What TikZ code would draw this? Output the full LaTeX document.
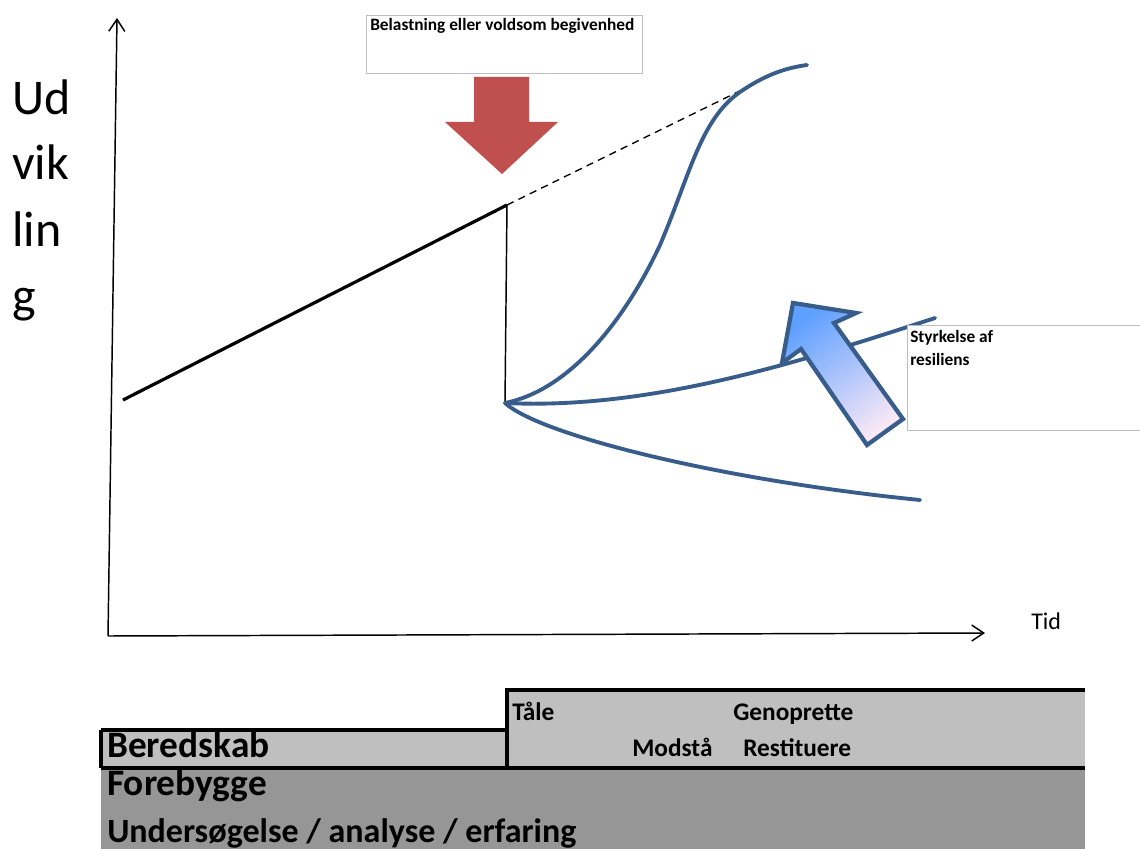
\documentclass[tikz,border=0pt]{standalone}
\usepackage{fontspec}
\setmainfont{Carlito}
\usetikzlibrary{arrows.meta}
\definecolor{curveblue}{RGB}{56,93,138}
\definecolor{redarrow}{RGB}{192,80,77}
\definecolor{lightgray}{RGB}{191,191,191}
\definecolor{darkgray}{RGB}{150,150,150}
\definecolor{boxgray}{RGB}{190,190,190}
\definecolor{tipblue}{RGB}{95,160,255}
\definecolor{tailpink}{RGB}{250,232,246}
\tikzset{
  axis/.style={line width=1.1pt,-{Straight Barb[length=9pt,width=12pt,line width=1.1pt]}},
  curve/.style={draw=curveblue,line width=2.9pt,line cap=round},
  infobox/.style={draw=boxgray,line width=1pt,fill=white},
  smalltxt/.style={font=\fontsize{13}{15}\selectfont\bfseries,anchor=base west,inner sep=0pt},
  bandtxt/.style={font=\fontsize{19}{22}\selectfont\bfseries,anchor=base west,inner sep=0pt},
  bigtxt/.style={font=\fontsize{28}{32}\selectfont\bfseries,anchor=base west,inner sep=0pt},
  ytxt/.style={font=\fontsize{37.5}{45}\selectfont,anchor=base west,inner sep=0pt},
}
\begin{document}
\begin{tikzpicture}[x=0.75pt,y=-0.75pt]
\useasboundingbox (0,0) rectangle (1140,849);
% axes
\coordinate (o) at (108,636);
\coordinate (ytop) at (117,18);
\coordinate (xend) at (985,633);
\draw[axis] (o) -- (ytop);
\draw[axis] (o) -- (xend);
\node[font=\fontsize{18}{20}\selectfont,anchor=base west,inner sep=0pt] (tid) at (1031,629) {Tid};
\node[ytxt] (ud1) at (12,114) {Ud};
\node[ytxt] (ud2) at (12,180) {vik};
\node[ytxt] (ud3) at (12,246) {lin};
\node[ytxt] (ud4) at (12,312) {g};
% black line, drop
\coordinate (l0) at (123,400);
\coordinate (peak) at (507,205);
\coordinate (dashend) at (752,85);
\coordinate (low) at (505,403);
\draw[line width=2.4pt] (l0) -- (peak);
\draw[line width=1pt,dashed,dash pattern=on 5.5pt off 4pt] (peak) -- (dashend);
\draw[line width=1.1pt] (peak) -- (low);
% blue curves
\coordinate (upend) at (807,65);
\coordinate (midend) at (935,318);
\coordinate (lowend) at (920,500);
\draw[curve] (low) .. controls (570,390) and (625,320) .. (660,245)
  .. controls (690,175) and (700,120) .. (740,92)
  .. controls (765,75) and (785,68) .. (upend);
\draw[curve] (low) .. controls (650,410) and (800,362) .. (midend);
\draw[curve] (low) .. controls (540,435) and (720,480) .. (lowend);
% Belastning box and red arrow
\node[infobox,minimum width=276*0.75pt,minimum height=58*0.75pt,anchor=north west] (belbox) at (366,15) {};
\node[smalltxt] (beltxt) at (370,31) {Belastning eller voldsom begivenhed};
\fill[redarrow] (474,77) -- (529,77) -- (529,122) -- (558,122) -- (502,174) -- (445,122) -- (474,122) -- cycle;
% Styrkelse box
\node[infobox,minimum width=236*0.75pt,minimum height=105*0.75pt,anchor=north west] (stbox) at (907,325) {};
\node[smalltxt] (st1) at (910,342) {Styrkelse af};
\node[smalltxt] (st2) at (910,365) {resiliens};
% gradient arrow
\shade[top color=tipblue,bottom color=tailpink,shading angle=35]
  (793,303) -- (856,313) -- (834,323) -- (903,419) -- (867,445) -- (801,349) -- (782,363) -- cycle;
\draw[curveblue,line width=3.2pt,line join=miter]
  (793,303) -- (856,313) -- (834,323) -- (903,419) -- (867,445) -- (801,349) -- (782,363) -- cycle;
% bottom bands
\fill[darkgray] (101,768) rectangle (1085,851);
\fill[lightgray] (507,690) rectangle (1085,768);
\fill[lightgray] (101,730) rectangle (507,768);
\draw[line width=2.4pt] (101,730) -- (507,730);
\draw[line width=2.4pt] (101,730) -- (101,768);
\draw[line width=2.4pt] (507,768) -- (507,690) -- (1085,690);
\draw[line width=2.4pt] (101,768) -- (1085,768);
\node[bandtxt] (tale) at (512,720) {Tåle};
\node[bandtxt] (geno) at (733,720) {Genoprette};
\node[bandtxt] (mods) at (632,756) {Modstå};
\node[bandtxt] (rest) at (743,756) {Restituere};
\node[bigtxt] (bered) at (107,757) {Beredskab};
\node[bigtxt] (fore) at (107,795) {Forebygge};
\node[font=\fontsize{25.5}{30}\selectfont\bfseries,anchor=base west,inner sep=0pt] (unders) at (107,842) {Undersøgelse / analyse / erfaring};
\end{tikzpicture}
\end{document}
